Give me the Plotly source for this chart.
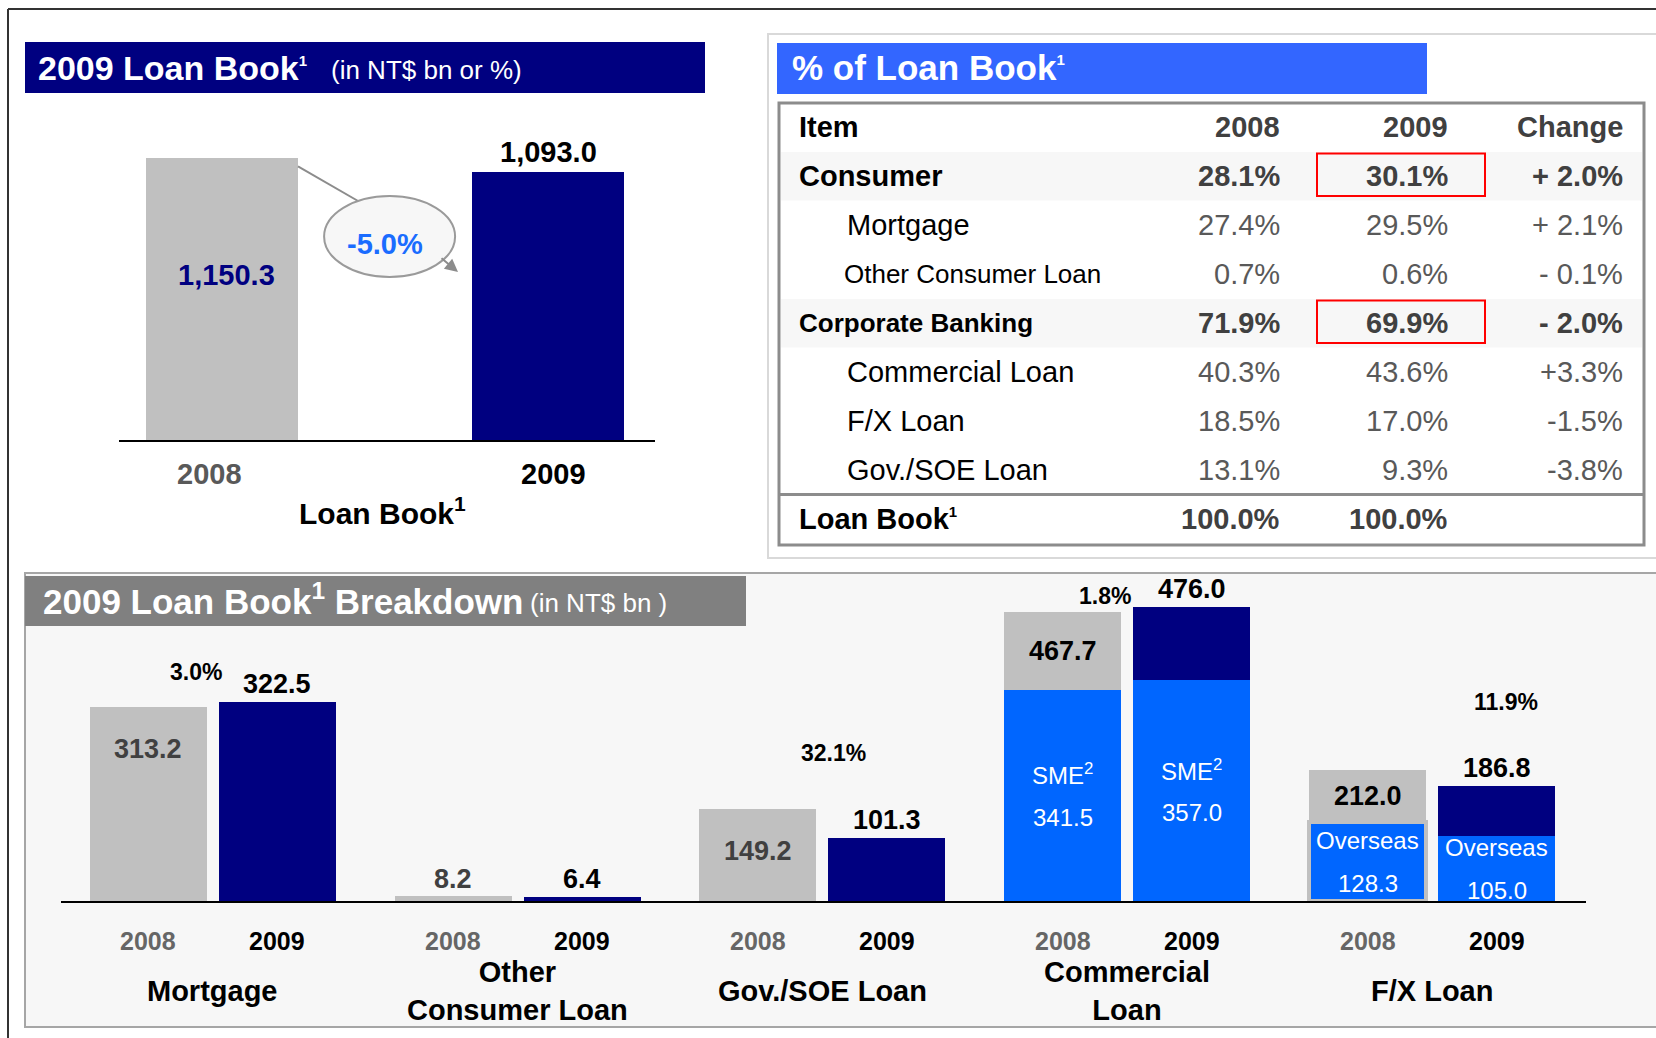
import plotly.graph_objects as go

W, H = 1656, 1038
FONT = "Liberation Sans, Arial, Helvetica, sans-serif"
NAVY = "#000080"
GRAY_BAR = "#c0c0c0"
BLUE = "#0066ff"
TITLE_BLUE = "#3366ff"
DARK = "#404040"
MID = "#595959"

# ---------------- data ----------------
# 2009 Loan Book (NT$ bn)
lb_years = ["2008", "2009"]
lb_values = [1150.3, 1093.0]
lb_change = "-5.0%"

# % of Loan Book table
tbl_header = ["Item", "2008", "2009", "Change"]
tbl_items = ["Consumer", "Mortgage", "Other Consumer Loan", "Corporate Banking",
             "Commercial Loan", "F/X Loan", "Gov./SOE Loan", "Loan Book¹"]
tbl_2008 = [28.1, 27.4, 0.7, 71.9, 40.3, 18.5, 13.1, 100.0]
tbl_2009 = [30.1, 29.5, 0.6, 69.9, 43.6, 17.0, 9.3, 100.0]
tbl_change = ["+ 2.0%", "+ 2.1%", "- 0.1%", "- 2.0%", "+3.3%", "-1.5%", "-3.8%", ""]
tbl_level = [0, 1, 1, 0, 1, 1, 1, 0]

# 2009 Loan Book Breakdown (NT$ bn)
bd_groups = ["Mortgage", "Other<br>Consumer Loan", "Gov./SOE Loan", "Commercial<br>Loan", "F/X Loan"]
bd_2008 = [313.2, 8.2, 149.2, 467.7, 212.0]
bd_2009 = [322.5, 6.4, 101.3, 476.0, 186.8]
bd_growth = ["3.0%", "", "32.1%", "1.8%", "11.9%"]
sub_group_idx = [3, 4]
sub_names = ["SME<sup>2</sup>", "Overseas"]
sub_2008 = [341.5, 128.3]
sub_2009 = [357.0, 105.0]

# ---------------- layout constants ----------------
def px(x):
    return x / W

def py(y):
    return 1 - y / H

SUP1 = "<sup>1</sup>"
SUP1_SMALL = "<sup><span style='font-size:15px'>1</span></sup>"

# top-left chart geometry
TL_L, TL_R, TL_B, TL_T = 119, 655, 440, 100
TL_XR = [-0.316, 1.328]
TL_SCALE = 0.2448
TL_YMAX = (TL_B - TL_T) / TL_SCALE
TL_W = 0.466

def tl_x(v):
    return TL_L + (v - TL_XR[0]) * (TL_R - TL_L) / (TL_XR[1] - TL_XR[0])

def tl_y(v):
    return TL_B - v * TL_SCALE

# bottom chart geometry
BT_L, BT_R, BT_B, BT_T = 61, 1586, 901, 580
BT_XR = [-0.498, 4.505]
BT_SCALE = 0.618
BT_YMAX = (BT_B - BT_T) / BT_SCALE
BD_OFF = 0.2116
BD_W = 0.384

fig = go.Figure()
lx_idx = list(range(len(lb_years)))
fig.add_trace(go.Bar(x=lx_idx, y=lb_values, width=TL_W,
                     marker=dict(color=[GRAY_BAR, NAVY], line=dict(width=0)),
                     xaxis="x", yaxis="y", hoverinfo="skip"))

gx = list(range(len(bd_groups)))
x08 = [g - BD_OFF for g in gx]
x09 = [g + BD_OFF for g in gx]
fig.add_trace(go.Bar(x=x08, y=bd_2008, width=BD_W, marker=dict(color=GRAY_BAR, line=dict(width=0)),
                     xaxis="x2", yaxis="y2", hoverinfo="skip"))
fig.add_trace(go.Bar(x=x09, y=bd_2009, width=BD_W, marker=dict(color=NAVY, line=dict(width=0)),
                     xaxis="x2", yaxis="y2", hoverinfo="skip"))
fig.add_trace(go.Bar(x=[x08[i] for i in sub_group_idx], y=sub_2008, width=BD_W,
                     marker=dict(color=BLUE, line=dict(color=GRAY_BAR, width=[0, 4])),
                     xaxis="x2", yaxis="y2", hoverinfo="skip"))
fig.add_trace(go.Bar(x=[x09[i] for i in sub_group_idx], y=sub_2009, width=BD_W,
                     marker=dict(color=BLUE, line=dict(width=0)),
                     xaxis="x2", yaxis="y2", hoverinfo="skip"))

shapes = []
ann = []

def rect(x0, y0, x1, y1, fill=None, line=None, lw=0, layer="below"):
    shapes.append(dict(type="rect", xref="paper", yref="paper", x0=px(x0), x1=px(x1), y0=py(y1), y1=py(y0),
                       fillcolor=fill if fill else "rgba(0,0,0,0)",
                       line=dict(color=line if line else "rgba(0,0,0,0)", width=lw), layer=layer))

def hline(x0, x1, y, color, lw, layer="below"):
    shapes.append(dict(type="line", xref="paper", yref="paper", x0=px(x0), x1=px(x1), y0=py(y), y1=py(y),
                       line=dict(color=color, width=lw), layer=layer))

def text(x, y, s, size, color="black", xanchor="center", yanchor="middle", **kw):
    ann.append(dict(xref="paper", yref="paper", x=px(x), y=py(y), text=s, showarrow=False,
                    xanchor=xanchor, yanchor=yanchor, font=dict(family=FONT, size=size, color=color), **kw))

def dtext(xref, yref, x, y, s, size, color="black", xanchor="center", yanchor="middle", **kw):
    ann.append(dict(xref=xref, yref=yref, x=x, y=y, text=s, showarrow=False,
                    xanchor=xanchor, yanchor=yanchor, font=dict(family=FONT, size=size, color=color), **kw))

# outer frame
hline(8, W, 9, "#333333", 2)
shapes.append(dict(type="line", xref="paper", yref="paper", x0=px(8), x1=px(8), y0=py(9), y1=0,
                   line=dict(color="#333333", width=2), layer="below"))

# ---------- top-left panel ----------
rect(25, 42, 705, 93, fill=NAVY)
text(36, 68, "<b>2009 Loan Book" + SUP1_SMALL + "</b>", 34, "white", xanchor="left")
text(329, 70, "(in NT$ bn or %)", 26, "white", xanchor="left")

# connector line from 2008 bar top-right corner to ellipse, ellipse, arrow
cx, cy, rx, ry = 389.6, 236.5, 65.5, 40.5
shapes.append(dict(type="line", xref="paper", yref="paper",
                   x0=px(tl_x(0 + TL_W / 2)), y0=py(tl_y(lb_values[0]) + 8),
                   x1=px(cx - 22), y1=py(cy - 30), line=dict(color="#8c8c8c", width=2), layer="above"))
shapes.append(dict(type="circle", xref="paper", yref="paper", x0=px(cx - rx), x1=px(cx + rx),
                   y0=py(cy + ry), y1=py(cy - ry), fillcolor="#f7f7f7",
                   line=dict(color="#9a9a9a", width=2), layer="above"))
ann.append(dict(xref="paper", yref="paper", x=px(458), y=py(272), ax=-18, ay=-15, text="",
                showarrow=True, arrowhead=2, arrowsize=1.3, arrowwidth=2, arrowcolor="#8c8c8c"))
text(cx - 5, cy + 8, "<b>" + lb_change + "</b>", 29, "#1a6cff")

# value labels
dtext("x", "paper", lx_idx[0], py(275), "<b>{:,.1f}</b>".format(lb_values[0]), 29, NAVY, xshift=4)
dtext("x", "y", lx_idx[1], lb_values[1], "<b>{:,.1f}</b>".format(lb_values[1]), 29, "black",
      yanchor="bottom", yshift=2)
year_shift = [-13, 5]
for i, yr in enumerate(lb_years):
    dtext("x", "paper", lx_idx[i], py(474), "<b>" + yr + "</b>", 29, MID if i == 0 else "black",
          xshift=year_shift[i])
text(382, 511, "<b>Loan Book" + SUP1 + "</b>", 30, "black")

# ---------- top-right panel (table) ----------
rect(768, 34, W + 5, 558, line="#d9d9d9", lw=2)
rect(777, 43, 1427, 94, fill=TITLE_BLUE)
text(790, 67, "<b>% of Loan Book" + SUP1_SMALL + "</b>", 35, "white", xanchor="left")

ROW0 = 176
ROWH = 49
for i, lv in enumerate(tbl_level):
    if lv == 0 and i < len(tbl_level) - 1:
        yc = ROW0 + i * ROWH
        rect(781, yc - 24, 1642, yc + 24.5, fill="#f7f7f7")
rect(779, 103, 1644, 545, line="#8c8c8c", lw=3)
hline(779, 1644, 494.5, "#8c8c8c", 3)

COLX = [797, 1282, 1450, 1625]
text(COLX[0], 127, "<b>" + tbl_header[0] + "</b>", 29, "black", xanchor="left")
for c in range(1, 4):
    text(COLX[c], 127, "<b>" + tbl_header[c] + "</b>", 29, DARK, xanchor="right")

for i, item in enumerate(tbl_items):
    yc = ROW0 + i * ROWH
    bold = tbl_level[i] == 0
    size = 26 if len(item) > 16 else 29
    lx = COLX[0] if bold else (842 if len(item) > 16 else 845)
    label = item
    if item.endswith("¹"):
        label = item[:-1] + SUP1_SMALL

    def b(s):
        return "<b>" + s + "</b>" if bold else s
    text(lx, yc, b(label), size, "black", xanchor="left")
    ncol = DARK if bold else MID
    text(COLX[1], yc, b("{:.1f}%".format(tbl_2008[i])), 29, ncol, xanchor="right")
    text(COLX[2], yc, b("{:.1f}%".format(tbl_2009[i])), 29, ncol, xanchor="right")
    if tbl_change[i]:
        text(COLX[3], yc, b(tbl_change[i]), 29, ncol, xanchor="right")
    if bold and i < len(tbl_items) - 1:
        rect(1317, yc - 22.5, 1485, yc + 20, line="#ff0000", lw=2, layer="above")

# ---------- bottom panel ----------
rect(25, 573, W + 5, 1027, fill="#f7f7f7", line="#a6a6a6", lw=2)
rect(25, 576, 746, 626, fill="#808080")
text(41, 599, "<b>2009 Loan Book" + SUP1 + " Breakdown</b>", 35, "white", xanchor="left")
text(528, 603, "(in NT$ bn )", 26, "white", xanchor="left")

# 2008 labels
for g in gx:
    v = bd_2008[g]
    lab = "<b>{:.1f}</b>".format(v)
    if g in sub_group_idx:
        s = sub_2008[sub_group_idx.index(g)]
        dtext("x2", "y2", x08[g], (v + s) / 2, lab, 27, "black")
    elif v * BT_SCALE > 60:
        dtext("x2", "y2", x08[g], v, lab, 27, DARK, yanchor="top", yshift=-25)
    else:
        dtext("x2", "y2", x08[g], v, lab, 27, DARK, yanchor="bottom")
# 2009 labels
for g in gx:
    v = bd_2009[g]
    dtext("x2", "y2", x09[g], v, "<b>{:.1f}</b>".format(v), 27, "black", yanchor="bottom", yshift=1)
# sub-segment labels
for k, g in enumerate(sub_group_idx):
    for xs, val in ((x08[g], sub_2008[k]), (x09[g], sub_2009[k])):
        dtext("x2", "y2", xs, val / 2, sub_names[k], 24, "white", yshift=21)
        dtext("x2", "y2", xs, val / 2, "{:.1f}".format(val), 24, "white", yshift=-22)
# growth labels (pixel placements)
growth_pos = [(196, 672), None, (833, 753), (1105, 596), (1506, 702)]
for g, lab in enumerate(bd_growth):
    if lab and growth_pos[g]:
        text(growth_pos[g][0], growth_pos[g][1], "<b>" + lab + "</b>", 23, "black")
# year and group labels
for g in gx:
    dtext("x2", "paper", x08[g], py(941), "<b>2008</b>", 25, "#666666")
    dtext("x2", "paper", x09[g], py(941), "<b>2009</b>", 25, "black")
    dtext("x2", "paper", g, py(991), "<b>" + bd_groups[g] + "</b>", 29, "black")

fig.update_layout(
    width=W, height=H, margin=dict(l=0, r=0, t=0, b=0),
    paper_bgcolor="white", plot_bgcolor="rgba(0,0,0,0)",
    showlegend=False, barmode="overlay", bargap=0,
    font=dict(family=FONT),
    xaxis=dict(domain=[px(TL_L), px(TL_R)], range=TL_XR, anchor="y",
               showgrid=False, zeroline=False, showticklabels=False, ticks="",
               showline=True, linecolor="black", linewidth=2, fixedrange=True),
    yaxis=dict(domain=[py(TL_B), py(TL_T)], range=[0, TL_YMAX], anchor="x", visible=False, fixedrange=True),
    xaxis2=dict(domain=[px(BT_L), px(BT_R)], range=BT_XR, anchor="y2",
                showgrid=False, zeroline=False, showticklabels=False, ticks="",
                showline=True, linecolor="black", linewidth=2, fixedrange=True),
    yaxis2=dict(domain=[py(BT_B), py(BT_T)], range=[0, BT_YMAX], anchor="x2", visible=False, fixedrange=True),
    shapes=shapes, annotations=ann,
)

fig.write_html("out.html", config={"displayModeBar": False},
               post_script="document.body.style.margin='0';document.body.style.overflow='hidden';")
